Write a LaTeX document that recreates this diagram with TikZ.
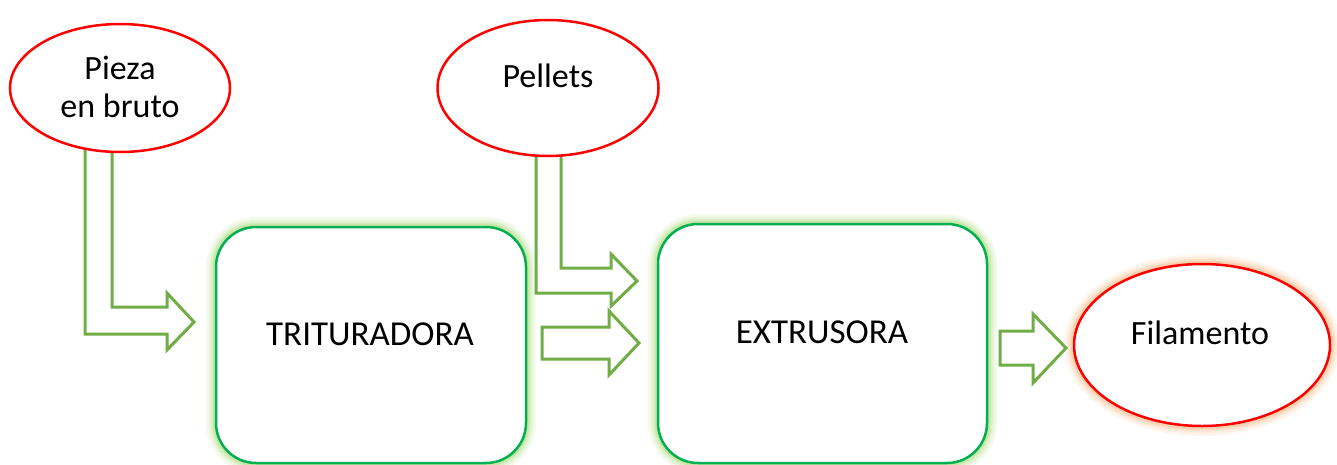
\documentclass[tikz,border=0pt]{standalone}
\usepackage{fontspec}
\setmainfont{Carlito}
\usetikzlibrary{shapes.geometric}
\definecolor{arrowgreen}{HTML}{70AD47}
\definecolor{boxgreen}{HTML}{00B050}
\definecolor{glowgreen}{HTML}{92D050}
\definecolor{gloworange}{HTML}{F4A460}
\tikzset{
  x=1pt,y=-1pt,
  oval/.style={ellipse,draw=red,line width=2.5pt,fill=white,inner sep=0pt},
  blockarrow/.style={draw=arrowgreen,line width=3pt,line join=miter,fill=white},
  procbox/.style={draw=boxgreen,line width=2.5pt,fill=white,rounded corners=40pt},
  lbl/.style={font=\fontsize{35}{38}\selectfont,inner sep=0pt},
  olbl/.style={font=\fontsize{34}{38}\selectfont,inner sep=0pt}
}
\begin{document}
\begin{tikzpicture}
\useasboundingbox (0,0) rectangle (1337,464);
\clip (0,0) rectangle (1337,464);
% glow
\foreach \w/\c in {20/10,15/20,11/32,7/50}{
  \draw[glowgreen!\c,line width=\w pt,rounded corners=40pt] (216,227) rectangle (526,463);
  \draw[glowgreen!\c,line width=\w pt,rounded corners=40pt] (658,224) rectangle (987,463);
  \draw[gloworange!\c] [line width=\w pt] (1202,345) ellipse [x radius=128,y radius=81];
}
\draw[procbox] (216,227) rectangle (526,463);
\draw[procbox] (658,224) rectangle (987,463);
\node[lbl] (trit) at (370,334) {TRITURADORA};
\node[lbl] (extr) at (822,332) {EXTRUSORA};
% bent arrow 1
\draw[blockarrow] (85,140) -- (85,334) -- (167,334) -- (167,350) -- (194,322) -- (167,293) -- (167,307) -- (112,307) -- (112,140);
% bent arrow 2
\draw[blockarrow] (536,140) -- (536,293) -- (611,293) -- (611,306) -- (637,281) -- (611,254) -- (611,268) -- (561,268) -- (561,140);
% straight arrow
\draw[blockarrow] (542,327) -- (609,327) -- (609,311) -- (639,343) -- (609,375) -- (609,359) -- (542,359) -- cycle;
% arrow to filament
\draw[blockarrow] (1000,331) -- (1033,331) -- (1033,314) -- (1066,348) -- (1033,383) -- (1033,365) -- (1000,365) -- cycle;
% ellipses
\node[oval,minimum width=220pt,minimum height=128pt] (pieza) at (120,88) {};
\node[oval,minimum width=221pt,minimum height=136pt] (pellets) at (548,88) {};
\node[oval,minimum width=256pt,minimum height=162pt] (fil) at (1202,345) {};
\node[olbl] (t1) at (120,68) {Pieza};
\node[olbl] (t2) at (120,106) {en bruto};
\node[olbl] (t3) at (548,76) {Pellets};
\node[olbl] (t4) at (1200,333) {Filamento};
\end{tikzpicture}
\end{document}
